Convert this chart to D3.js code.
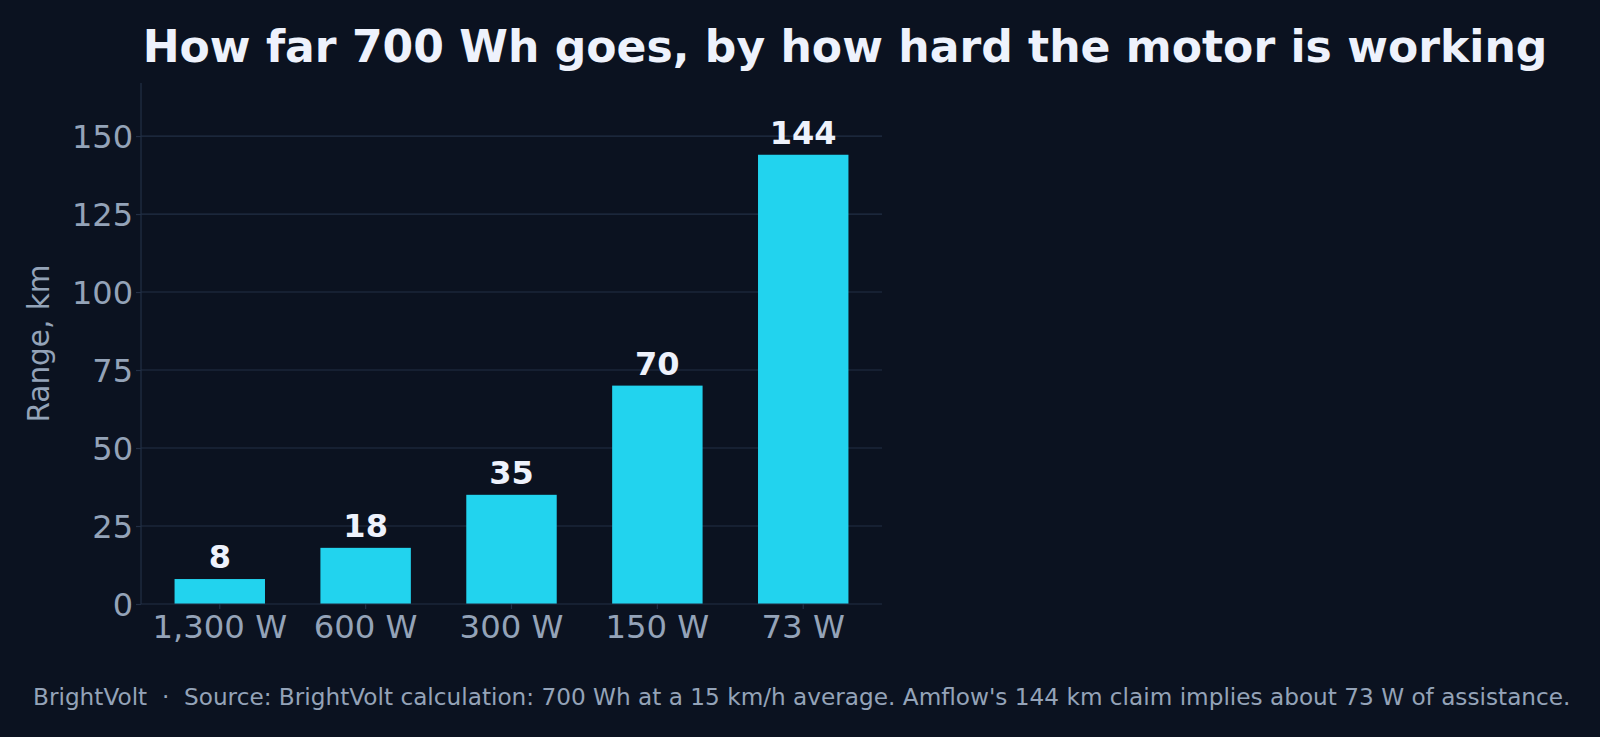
<!DOCTYPE html>
<html>
<head>
<meta charset="utf-8">
<script src="https://cdn.jsdelivr.net/npm/d3@7"></script>
<style>
  html, body { margin: 0; padding: 0; background: #0b1220; }
  svg { display: block; font-family: "DejaVu Sans", sans-serif; }
</style>
</head>
<body>
<div id="chart"></div>
<script>
// Chart data
var categories = ["1,300 W", "600 W", "300 W", "150 W", "73 W"];
var rangeKm = [8, 18, 35, 70, 144];
var yTicks = [0, 25, 50, 75, 100, 125, 150];

var titleText = "How far 700 Wh goes, by how hard the motor is working";
var footerText = "BrightVolt  \u00b7  Source: BrightVolt calculation: 700 Wh at a 15 km/h average. Amflow's 144 km claim implies about 73 W of assistance.";

var width = 1600,
    height = 737;

// plot area
var margin = {left: 141, right: 718, top: 83, bottom: 133};
var innerW = width - margin.left - margin.right,
    innerH = height - margin.top - margin.bottom;

var bg = "#0b1220",
    gridColor = "#222f45",
    tickText = "#94a3b8",
    barColor = "#22d3ee",
    titleColor = "#eef2fc";

var svg = d3.select("#chart").append("svg")
    .attr("width", width)
    .attr("height", height);

svg.append("rect")
    .attr("width", width)
    .attr("height", height)
    .attr("fill", bg);

var g = svg.append("g")
    .attr("transform", "translate(" + margin.left + "," + margin.top + ")");

var x = d3.scaleBand()
    .domain(categories)
    .range([0, innerW])
    .paddingInner(0.38)
    .paddingOuter(0.23);

var y = d3.scaleLinear()
    .domain([0, 167])
    .range([innerH, 0]);

// grid lines
g.selectAll(".grid").data(yTicks.filter(function(d) { return d > 0; }))
    .enter().append("line")
    .attr("class", "grid")
    .attr("x1", 0)
    .attr("x2", innerW)
    .attr("y1", function(d) { return y(d); })
    .attr("y2", function(d) { return y(d); })
    .attr("stroke", gridColor)
    .attr("stroke-width", 1.2);

// bars
g.selectAll(".bar").data(rangeKm)
    .enter().append("rect")
    .attr("class", "bar")
    .attr("x", function(d, i) { return x(categories[i]); })
    .attr("width", x.bandwidth())
    .attr("y", function(d) { return y(d); })
    .attr("height", function(d) { return innerH - y(d); })
    .attr("fill", barColor);

// value labels
g.selectAll(".val").data(rangeKm)
    .enter().append("text")
    .attr("class", "val")
    .attr("x", function(d, i) { return x(categories[i]) + x.bandwidth() / 2; })
    .attr("y", function(d) { return y(d) - 11; })
    .attr("text-anchor", "middle")
    .style("font-size", "32px")
    .style("font-weight", "bold")
    .style("fill", titleColor)
    .text(function(d) { return d; });

// y axis
var yAxis = g.append("g")
    .call(d3.axisLeft(y).tickValues(yTicks).tickSize(5).tickPadding(3));
yAxis.select(".domain").attr("stroke", gridColor).attr("stroke-width", 1.2)
    .attr("d", "M0," + innerH + "V0");
yAxis.selectAll(".tick line").attr("stroke", gridColor).attr("stroke-width", 1.2);
yAxis.selectAll(".tick text")
    .attr("dy", "0.36em")
    .style("font-size", "32px")
    .style("font-family", "DejaVu Sans, sans-serif")
    .style("fill", tickText);

// x axis
var xAxis = g.append("g")
    .attr("transform", "translate(0," + innerH + ")")
    .call(d3.axisBottom(x).tickSize(5).tickPadding(6));
xAxis.select(".domain").attr("stroke", gridColor).attr("stroke-width", 1.2)
    .attr("d", "M0,0H" + innerW);
xAxis.selectAll(".tick line").attr("stroke", gridColor).attr("stroke-width", 1.2);
xAxis.selectAll(".tick text")
    .attr("dy", "0.71em")
    .style("font-size", "32.3px")
    .style("font-family", "DejaVu Sans, sans-serif")
    .style("fill", tickText);

// y axis title
svg.append("text")
    .attr("transform", "translate(49," + (margin.top + innerH / 2) + ") rotate(-90)")
    .attr("text-anchor", "middle")
    .style("font-size", "29.5px")
    .style("fill", tickText)
    .text("Range, km");

// title
svg.append("text")
    .attr("x", 845)
    .attr("y", 62)
    .attr("text-anchor", "middle")
    .style("font-size", "44.1px")
    .style("font-weight", "bold")
    .style("fill", titleColor)
    .text(titleText);

// footer
svg.append("text")
    .attr("x", 33)
    .attr("y", 705)
    .attr("xml:space", "preserve")
    .style("white-space", "pre")
    .style("font-size", "23.2px")
    .style("fill", tickText)
    .text(footerText);
</script>
</body>
</html>
